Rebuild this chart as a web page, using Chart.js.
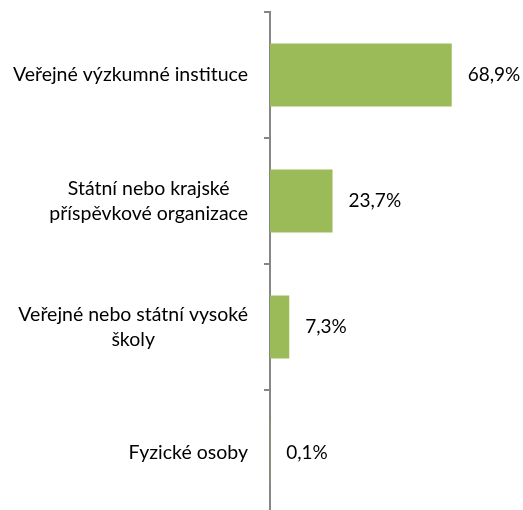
<!DOCTYPE html>
<html>
<head>
<meta charset="utf-8">
<script src="https://cdn.jsdelivr.net/npm/chart.js@4"></script>
<style>
  html, body { margin: 0; padding: 0; background: #fff; }
  #wrap { width: 523px; height: 510px; overflow: hidden; }
</style>
</head>
<body>
<div id="wrap"><canvas id="chart" width="523" height="530"></canvas></div>
<script>
// data
const categories = [
  ["Veřejné výzkumné instituce"],
  ["Státní nebo krajské", "příspěvkové organizace"],
  ["Veřejné nebo státní vysoké", "školy"],
  ["Fyzické osoby"]
];
const values = [68.9, 23.7, 7.3, 0.1];
const valueLabels = ["68,9%", "23,7%", "7,3%", "0,1%"];

const CAT_FONT = "19.5px Lato";
const VAL_FONT = "19px Lato";

// popisky kategorií a hodnot
const labelPlugin = {
  id: "labels",
  afterDatasetsDraw(chart) {
    const ctx = chart.ctx;
    const yScale = chart.scales.y;
    const xScale = chart.scales.x;
    ctx.save();
    ctx.fillStyle = "#000";
    ctx.textBaseline = "middle";
    const rightEdge = 248;
    const lineH = 25;
    categories.forEach((lines, i) => {
      const y = yScale.getPixelForValue(i);
      ctx.font = CAT_FONT;
      const maxW = Math.max(...lines.map(l => ctx.measureText(l).width));
      const cx = rightEdge - maxW / 2;
      ctx.textAlign = "center";
      lines.forEach((l, j) => {
        const ly = y + (j - (lines.length - 1) / 2) * lineH;
        ctx.fillText(l, cx, ly);
      });
      // hodnota
      ctx.font = VAL_FONT;
      ctx.textAlign = "left";
      const x = xScale.getPixelForValue(values[i]);
      ctx.fillText(valueLabels[i], x + 16, y);
    });
    ctx.restore();
  }
};

new Chart(document.getElementById("chart").getContext("2d"), {
  type: "bar",
  data: {
    labels: categories,
    datasets: [{
      data: values,
      backgroundColor: "#9BBB59",
      borderWidth: 0,
      barPercentage: 1,
      categoryPercentage: 0.5
    }]
  },
  options: {
    indexAxis: "y",
    responsive: false,
    animation: false,
    layout: { padding: { top: 12, bottom: 14, left: 0, right: 42 } },
    plugins: { legend: { display: false }, tooltip: { enabled: false } },
    scales: {
      x: { display: false, min: 0, max: 80 },
      y: {
        afterFit(scale) { scale.width = 270; },
        ticks: { display: false },
        grid: {
          offset: true,
          drawOnChartArea: false,
          drawTicks: true,
          tickLength: 6,
          color: "#868686",
          lineWidth: 2
        },
        border: { display: true, color: "#868686", width: 2 }
      }
    }
  },
  plugins: [labelPlugin]
});
</script>
</body>
</html>
